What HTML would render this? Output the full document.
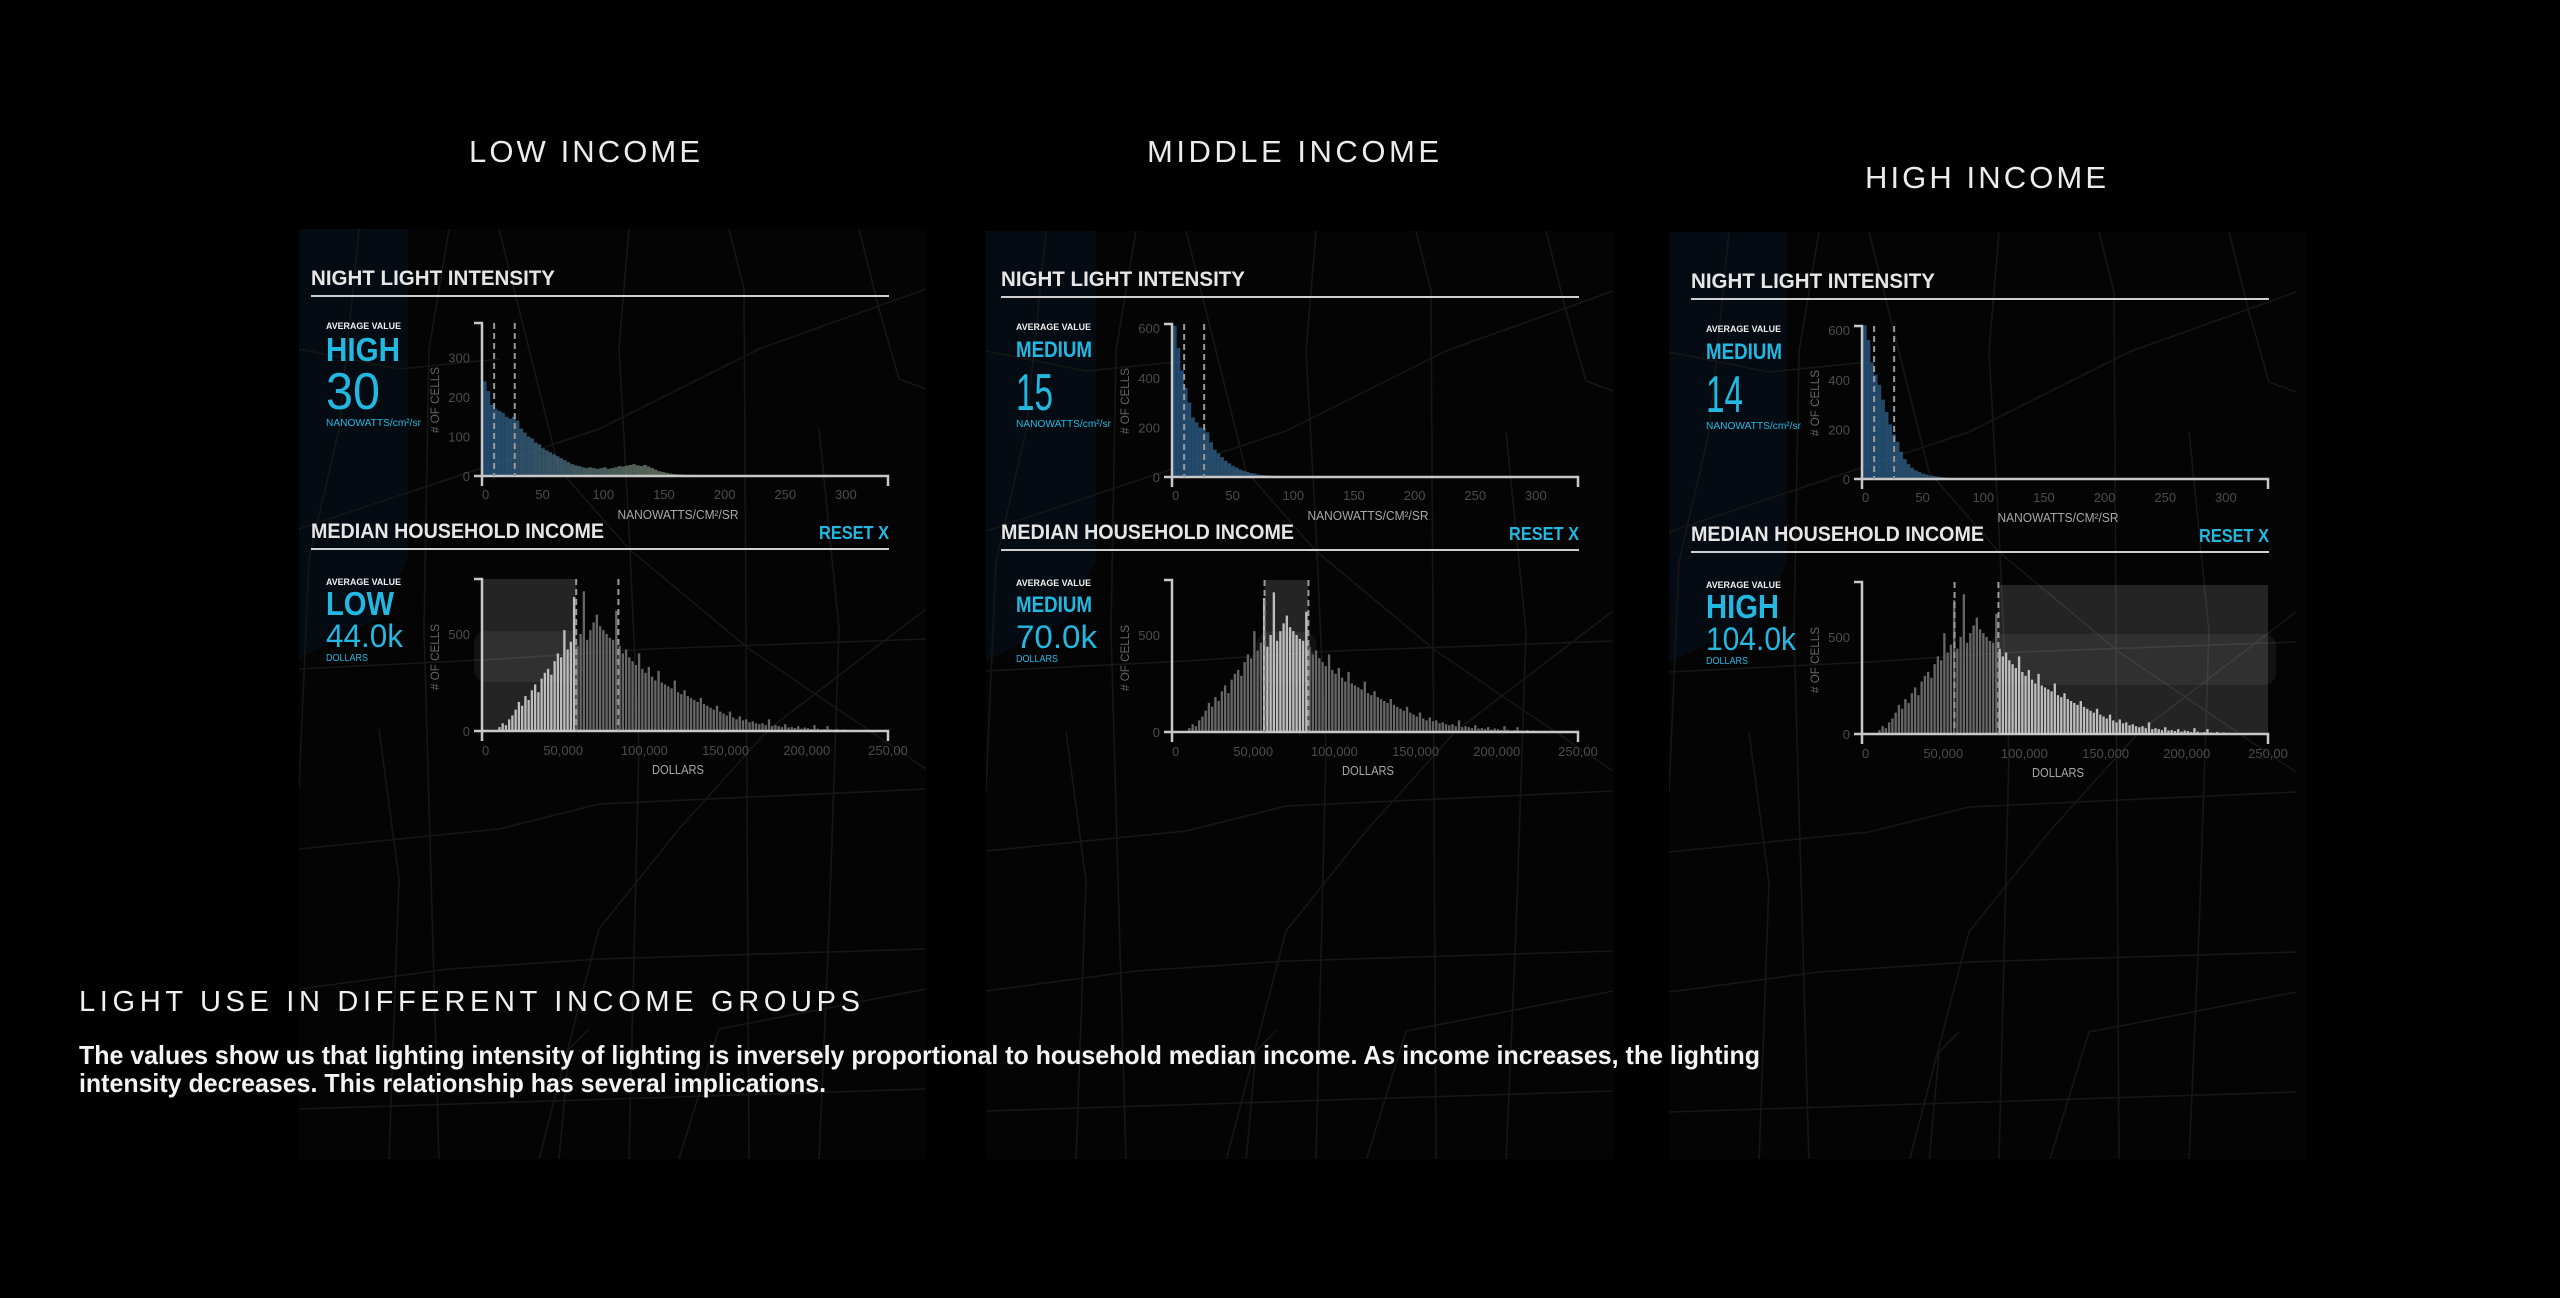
<!DOCTYPE html>
<html>
<head>
<meta charset="utf-8">
<style>
  html,body{margin:0;padding:0;background:#000;}
  svg{display:block;}
  text{font-family:"Liberation Sans",sans-serif;}
</style>
</head>
<body>
<svg id="root" width="2560" height="1298" viewBox="0 0 2560 1298" xmlns="http://www.w3.org/2000/svg">
  <rect x="0" y="0" width="2560" height="1298" fill="#000"/>
  <defs>
    <clipPath id="clip0"><rect x="299" y="229" width="627" height="930"/></clipPath>
    <clipPath id="clip1"><rect x="986" y="231" width="628" height="928"/></clipPath>
    <clipPath id="clip2"><rect x="1669" y="232" width="638" height="927"/></clipPath>
  </defs>
  <g id="panels"></g>

  <text x="469" y="162" fill="#ececec" font-size="31" textLength="231" lengthAdjust="spacing">LOW INCOME</text>
  <text x="1147" y="162" fill="#ececec" font-size="31" textLength="292" lengthAdjust="spacing">MIDDLE INCOME</text>
  <text x="1865" y="188" fill="#ececec" font-size="31" textLength="241" lengthAdjust="spacing">HIGH INCOME</text>

  <text x="79" y="1011" fill="#f0f0f0" font-size="29" textLength="781" lengthAdjust="spacing">LIGHT USE IN DIFFERENT INCOME GROUPS</text>
  <text x="79" y="1064" fill="#f4f4f4" font-size="26" font-weight="bold" textLength="1681" lengthAdjust="spacingAndGlyphs">The values show us that lighting intensity of lighting is inversely proportional to household median income. As income increases, the lighting</text>
  <text x="79" y="1092" fill="#f4f4f4" font-size="26" font-weight="bold" textLength="747" lengthAdjust="spacingAndGlyphs">intensity decreases. This relationship has several implications.</text>
</svg>

<script>
// ---------- DATA ----------
const lightTicksLow = [0, 100, 200, 300];
const lightTicksMidHigh = [0, 200, 400, 600];
const lightXTicks = [0, 50, 100, 150, 200, 250, 300];
const lightBinWidth = 3;
const lightCountsLow = [240,215,180,170,165,160,150,145,150,140,120,110,100,95,85,80,70,65,60,55,50,45,40,35,30,27,25,22,20,22,20,18,20,22,18,20,22,25,24,26,28,30,27,25,28,24,20,16,12,10,8,6,5,4,4,3,3,2,3,2,2,2,1,2,1,2,1,1,2,1,1,0,1,1,0,1,0,0,0,0];
const lightCountsMid = [610,520,430,360,300,240,220,200,195,180,140,110,95,80,65,55,45,38,30,25,20,16,14,10,8,7,6,5,5,4,4,3,4,3,3,2,3,2,2,2,2,3,2,2,1,2,1,1,2,1,1,1,2,1,0,1,0,0,0,0];
const lightCountsHigh = [620,560,470,420,380,320,270,220,180,150,110,80,60,45,35,28,22,18,14,12,10,8,6,5,4,3,3,2,2,2,2,1,2,1,1,1,1,1,0,1,1,0,1,1,0,0,1,0,0,0];
const incomeBinWidth = 2000;
const incomeCounts = [0,0,0,0,5,20,40,30,60,80,110,150,130,180,160,210,240,200,270,300,320,290,360,400,380,520,420,460,690,440,500,720,470,520,560,600,540,520,500,480,470,620,440,400,420,380,360,340,400,320,300,330,280,260,310,250,240,230,220,260,200,190,210,180,170,160,150,170,140,130,120,110,130,100,90,80,100,70,60,75,55,60,45,50,40,35,40,30,60,25,30,25,20,35,18,20,15,25,12,18,15,10,30,12,8,10,25,8,6,10,5,8,4,6,3,4,2,3,2,1,1,0,0,1,0];
const incomeXTicks = [0, 50000, 100000, 150000, 200000, 250000];
const incomeXTickLabels = ['0', '50,000', '100,000', '150,000', '200,000', '250,00'];
const incomeYTicks = [0, 500];
const lightMarkers = [[10, 27], [10, 26.5], [10, 26.5]];
const incomeMarkers = [[58000, 84000], [57000, 84000], [57000, 84000]];
const brushRanges = [[0, 58000], [57000, 84000], [84000, 250000]];
const lightLevels = ['HIGH', 'MEDIUM', 'MEDIUM'];
const lightValues = ['30', '15', '14'];
const incomeLevels = ['LOW', 'MEDIUM', 'HIGH'];
const incomeValues = ['44.0k', '70.0k', '104.0k'];

// ---------- LAYOUT ----------
const NS = 'http://www.w3.org/2000/svg';
const panelsG = document.getElementById('panels');
const offsets = [[0, 0], [690, 1], [1380, 3]];
const panelBoxes = [[299, 229, 627, 930, 109], [986, 231, 628, 928, 110], [1669, 232, 638, 927, 118]];
const lightCountSets = [lightCountsLow, lightCountsMid, lightCountsHigh];
const cyan = '#22b8e2';

function mk(tag, attrs, parent) {
  const e = document.createElementNS(NS, tag);
  for (const k in attrs) e.setAttribute(k, attrs[k]);
  parent.appendChild(e);
  return e;
}
function txt(parent, x, y, s, size, fill, extra) {
  const t = mk('text', Object.assign({x: x, y: y, 'font-size': size, fill: fill}, extra || {}), parent);
  t.textContent = s;
  return t;
}
function lerpColor(a, b, t) {
  const r = Math.round(a[0] + (b[0] - a[0]) * t), g = Math.round(a[1] + (b[1] - a[1]) * t), bl = Math.round(a[2] + (b[2] - a[2]) * t);
  return 'rgb(' + r + ',' + g + ',' + bl + ')';
}

const roads = [
  'M60 0 L40 200 L10 330 L0 560', 'M150 0 L130 120 L125 400 L140 930', 'M330 0 L320 120 L330 300 L340 520 L330 930',
  'M430 0 L445 60 L450 930', 'M560 0 L580 80 L600 150 L627 160', 'M0 300 L120 260 L300 200 L460 120 L627 60',
  'M0 440 L200 430 L350 420 L627 410', 'M0 620 L200 600 L300 575 L627 560', 'M0 760 L150 740 L300 730 L627 720',
  'M0 880 L627 860', 'M200 0 L260 240 L330 320 L450 420 L627 540', 'M240 930 L300 700 L380 600 L470 500 L627 380',
  'M520 930 L530 700 L540 400 L520 200', 'M0 120 L100 140 L200 130', 'M90 930 L100 650 L80 500',
  'M380 930 L420 800 L627 760', 'M260 930 L270 820 L290 800'
];

for (let p = 0; p < 3; p++) {
  const [dx, dy] = offsets[p];
  const g = mk('g', {transform: 'translate(' + dx + ',' + dy + ')'}, panelsG);
  
  

  const box = panelBoxes[p];
  const mg = mk('g', {'clip-path': 'url(#clip' + p + ')', transform: 'translate(' + (-dx) + ',' + (-dy) + ')'}, g);
  
  
  mk('rect', {x: box[0], y: box[1], width: box[2], height: box[3], fill: '#040404'}, mg);
  mk('path', {d: 'M' + box[0] + ' ' + box[1] + ' h' + box[4] + ' v330 l-30 60 l-' + (box[4] - 30) + ' 40 z', fill: '#050b12'}, mg);
  const rg = mk('g', {transform: 'translate(' + box[0] + ',' + box[1] + ')', fill: 'none', stroke: '#161616', 'stroke-width': 1.6}, mg);
  roads.forEach(d => mk('path', {d: d}, rg));

  const t1 = txt(g, 311, 285, 'NIGHT LIGHT INTENSITY', 21, '#e6e6e6', {'font-weight': 'bold', textLength: 244, lengthAdjust: 'spacingAndGlyphs'});
  
  
  const r1 = mk('rect', {x: 311, y: 295, width: 578, height: 2, fill: '#cfcfcf'}, g);
  
  

  const av1 = txt(g, 326, 329, 'AVERAGE VALUE', 9, '#f0f0f0', {'font-weight': 'bold', textLength: 75, lengthAdjust: 'spacingAndGlyphs'});
  
  
  const lvW = lightLevels[p] === 'HIGH' ? 74 : 76;
  const lvSize = lightLevels[p] === 'HIGH' ? 33 : 22;
  const lv = txt(g, 326, lightLevels[p] === 'HIGH' ? 361 : 356, lightLevels[p], lvSize, cyan, {'font-weight': 'bold', textLength: lvW, lengthAdjust: 'spacingAndGlyphs'});
  
  
  const lvv = txt(g, 326, 409, lightValues[p], 52, cyan, {textLength: p === 0 ? 54 : 37, lengthAdjust: 'spacingAndGlyphs'});
  
  
  const lu = txt(g, 326, 426, 'NANOWATTS/cm²/sr', 10, cyan, {textLength: 95, lengthAdjust: 'spacingAndGlyphs'});
  
  

  const lx0 = 482, lxEnd = 888, ly0 = 476, lyTop = 323;
  const lxs = v => lx0 + v * 1.213;
  const yPerUnit = p === 0 ? 0.395 : 0.248;
  const lys = v => ly0 - v * yPerUnit;
  const lYTicks = p === 0 ? lightTicksLow : lightTicksMidHigh;

  const lc = mk('g', {}, g);
  
  
  const counts = lightCountSets[p];
  const c0 = [40, 90, 135], c1 = p === 0 ? [140, 140, 95] : [90, 120, 125];
  counts.forEach((c, i) => {
    if (c <= 0) return;
    const v = i * lightBinWidth;
    const x = lxs(v), w = lxs(v + lightBinWidth) - x;
    const h = Math.min(ly0 - lys(c), ly0 - lyTop + 4);
    const b = mk('rect', {x: x + 1, y: ly0 - h, width: w, height: h, fill: lerpColor(c0, c1, Math.min(1, v / 200)), opacity: 0.8}, lc);
    
    
  });
  const la = mk('g', {stroke: '#c8c8c8', 'stroke-width': 2.5, fill: 'none'}, g);
  
  
  mk('path', {d: 'M' + (lx0 - 8) + ' ' + lyTop + ' H' + lx0 + ' V' + (ly0 + 10)}, la);
  mk('path', {d: 'M' + (lx0 - 8) + ' ' + ly0 + ' H' + lxEnd + ' V' + (ly0 + 10)}, la);
  lYTicks.forEach(t => {
    const tl = txt(g, 470, lys(t) + 5, String(t), 13, '#4c4c4c', {'text-anchor': 'end'});
    
    
  });
  lightXTicks.forEach(t => {
    const tl = txt(g, lxs(t), 499, String(t), 13, '#4c4c4c', {'text-anchor': t === 0 ? 'start' : 'middle'});
    
    
  });
  lightMarkers[p].forEach(m => {
    const d = mk('line', {x1: lxs(m), x2: lxs(m), y1: lyTop, y2: ly0, stroke: '#9a9a9a', 'stroke-width': 2, 'stroke-dasharray': '6 4'}, g);
    
    
  });
  const lxt = txt(g, 678, 519, 'NANOWATTS/CM²/SR', 13, '#a8a8a8', {'text-anchor': 'middle', textLength: 121, lengthAdjust: 'spacingAndGlyphs'});
  
  
  const lyt = txt(g, 0, 0, '# OF CELLS', 12, '#666', {'text-anchor': 'middle', transform: 'translate(439,400) rotate(-90)', textLength: 66, lengthAdjust: 'spacingAndGlyphs'});
  
  

  const t2 = txt(g, 311, 538, 'MEDIAN HOUSEHOLD INCOME', 21, '#e6e6e6', {'font-weight': 'bold', textLength: 293, lengthAdjust: 'spacingAndGlyphs'});
  
  
  const rs = txt(g, 889, 539, 'RESET X', 18, cyan, {'font-weight': 'bold', 'text-anchor': 'end', textLength: 70, lengthAdjust: 'spacingAndGlyphs'});
  
  
  const r2 = mk('rect', {x: 311, y: 548, width: 578, height: 2, fill: '#cfcfcf'}, g);
  
  

  const av2 = txt(g, 326, 585, 'AVERAGE VALUE', 9, '#f0f0f0', {'font-weight': 'bold', textLength: 75, lengthAdjust: 'spacingAndGlyphs'});
  
  
  const il = incomeLevels[p];
  const ilSize = il === 'MEDIUM' ? 22 : 33;
  const ilW = il === 'LOW' ? 68 : (il === 'HIGH' ? 73 : 76);
  const iv = txt(g, 326, il === 'MEDIUM' ? 611 : 615, il, ilSize, cyan, {'font-weight': 'bold', textLength: ilW, lengthAdjust: 'spacingAndGlyphs'});
  
  
  const ivv = txt(g, 326, 647, incomeValues[p], 32, cyan, {textLength: [77, 81, 90][p], lengthAdjust: 'spacingAndGlyphs'});
  
  
  const iu = txt(g, 326, 661, 'DOLLARS', 10, cyan, {textLength: 42, lengthAdjust: 'spacingAndGlyphs'});
  
  

  const ix0 = 482, ixEnd = 888, iy0 = 731, iyTop = 579;
  const ixs = v => ix0 + v * 406 / 250000;
  const iys = v => iy0 - v * 0.194;

  const br = brushRanges[p];
  const hx1 = ixs(br[0]) - 8, hx2 = Math.min(ixs(br[1]) + 8, 2277 - dx);
  const hd = mk('rect', {x: hx1, y: 631, width: hx2 - hx1, height: 51, rx: 12, fill: 'rgba(255,255,255,0.06)'}, g);
  
  
  const bs = mk('rect', {x: ixs(br[0]), y: iyTop + (p === 2 ? 3 : 0), width: ixs(br[1]) - ixs(br[0]), height: iy0 - iyTop - (p === 2 ? 3 : 0), fill: 'rgba(255,255,255,0.13)'}, g);
  
  

  const ic = mk('g', {}, g);
  
  
  incomeCounts.forEach((c, i) => {
    if (c <= 0) return;
    const v = i * incomeBinWidth;
    const inside = v + incomeBinWidth / 2 >= br[0] && v + incomeBinWidth / 2 <= br[1];
    const x = ixs(v), w = ixs(v + incomeBinWidth) - x - 0.9;
    const h = Math.min(iy0 - iys(c), iy0 - iyTop);
    const b = mk('rect', {x: x, y: iy0 - h, width: w, height: h, fill: inside ? '#bdbdbd' : '#666666'}, ic);
    
    
  });
  const ia = mk('g', {stroke: '#c8c8c8', 'stroke-width': 2.5, fill: 'none'}, g);
  
  
  mk('path', {d: 'M' + (ix0 - 8) + ' ' + iyTop + ' H' + ix0 + ' V' + (iy0 + 10)}, ia);
  mk('path', {d: 'M' + (ix0 - 8) + ' ' + iy0 + ' H' + ixEnd + ' V' + (iy0 + 10)}, ia);
  incomeYTicks.forEach(t => {
    const tl = txt(g, 470, iys(t) + 5, String(t), 13, '#4c4c4c', {'text-anchor': 'end'});
    
    
  });
  incomeXTicks.forEach((t, i) => {
    const tl = txt(g, ixs(t), 755, incomeXTickLabels[i], 13, '#4c4c4c', {'text-anchor': t === 0 ? 'start' : 'middle'});
    
    
  });
  incomeMarkers[p].forEach(m => {
    const d = mk('line', {x1: ixs(m), x2: ixs(m), y1: iyTop, y2: iy0, stroke: '#9a9a9a', 'stroke-width': 2, 'stroke-dasharray': '6 4'}, g);
    
    
  });
  const ixt = txt(g, 678, 774, 'DOLLARS', 13, '#a8a8a8', {'text-anchor': 'middle', textLength: 52, lengthAdjust: 'spacingAndGlyphs'});
  
  
  const iyt = txt(g, 0, 0, '# OF CELLS', 12, '#666', {'text-anchor': 'middle', transform: 'translate(439,657) rotate(-90)', textLength: 66, lengthAdjust: 'spacingAndGlyphs'});
  
  
}
</script>
</body>
</html>
